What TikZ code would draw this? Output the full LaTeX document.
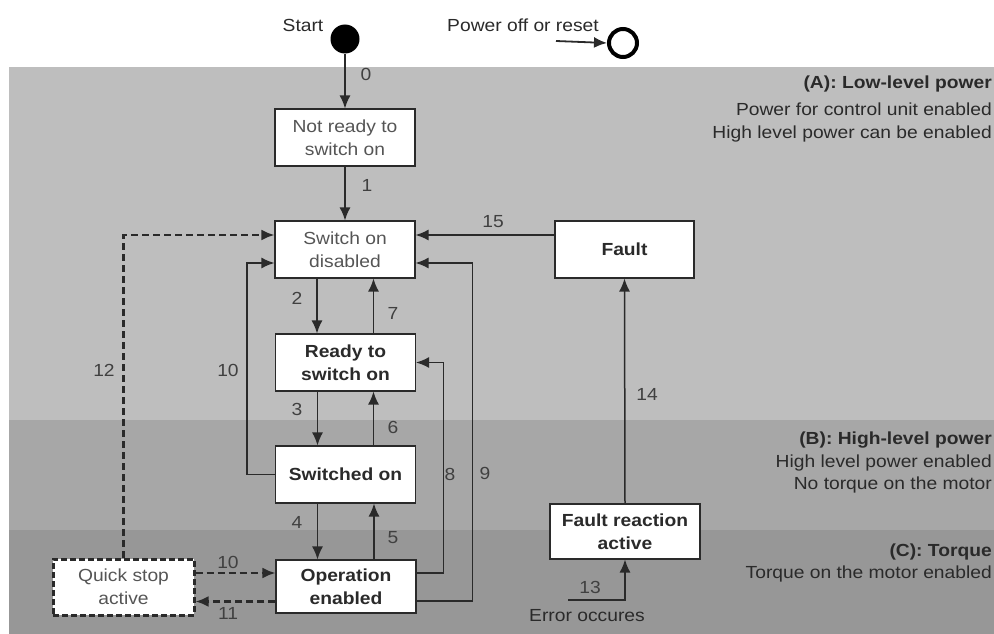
\documentclass[tikz,border=0pt]{standalone}
\usepackage{fontspec}
\setmainfont{Liberation Sans}[FakeStretch=1.1]
\usetikzlibrary{arrows.meta,calc}

\definecolor{bandA}{HTML}{BEBEBE}
\definecolor{bandB}{HTML}{A7A7A7}
\definecolor{bandC}{HTML}{979797}
\definecolor{ink}{HTML}{2A2A2A}
\definecolor{softink}{HTML}{555555}
\definecolor{numink}{HTML}{404040}

\tikzset{
  every node/.style={font=\fontsize{17.5}{23}\selectfont},
  statebox/.style={draw=ink, line width=1.1pt, fill=white, align=center,
    inner sep=0pt, minimum width=140pt, minimum height=57pt},
  boldstate/.style={statebox, font=\fontsize{17.5}{23}\selectfont\bfseries, text=ink},
  plainstate/.style={statebox, text=softink},
  trans/.style={draw=ink, line width=1.5pt, -{Latex[length=13pt,width=11pt]}},
  qtrans/.style={trans, line width=2.5pt, dash pattern=on 7pt off 4pt},
  num/.style={text=numink, inner sep=0pt},
  bandtitle/.style={anchor=east, inner sep=0pt, text=ink,
    font=\fontsize{17.5}{23}\selectfont\bfseries},
  bandtext/.style={anchor=east, inner sep=0pt, text=ink},
}

\begin{document}
\begin{tikzpicture}[x=1pt, y=-1pt]
  \useasboundingbox (0,0) rectangle (994,634);

  % power level bands
  \fill[bandA] (9,67) rectangle (994,420);
  \fill[bandB] (9,420) rectangle (994,530);
  \fill[bandC] (9,530) rectangle (994,634);

  % band descriptions
  \node[bandtitle] (ta)  at (992,84)  {(A): Low-level power};
  \node[bandtext]  (ta1) at (992,109) {Power for control unit enabled};
  \node[bandtext]  (ta2) at (992,134) {High level power can be enabled};
  \node[bandtitle] (tb)  at (992,440) {(B): High-level power};
  \node[bandtext]  (tb1) at (992,463) {High level power enabled};
  \node[bandtext]  (tb2) at (992,485) {No torque on the motor};
  \node[bandtitle] (tc)  at (992,552) {(C): Torque};
  \node[bandtext]  (tc1) at (992,574) {Torque on the motor enabled};

  % initial and final pseudo-states
  \node[circle, fill=black, minimum size=29pt, inner sep=0pt] (start) at (345,39) {};
  \node[text=ink] (startlbl) at (303,25) {Start};
  \node[circle, draw=black, line width=4pt, fill=white, minimum size=28pt, inner sep=0pt] (stop) at (623,43) {};
  \node[text=ink] (stoplbl) at (523,25) {Power off or reset};
  \coordinate (stopin) at (556,41);

  % states
  \node[plainstate] (nr)    at (345,137.5) {Not ready to\\switch on};
  \node[plainstate] (sod)   at (345,249.5) {Switch on\\disabled};
  \node[boldstate, minimum width=139pt] (fault) at (624.5,249.5) {Fault};
  \node[boldstate] (rtso)  at (345.5,362.5) {Ready to\\switch on};
  \node[boldstate] (swon)  at (345.5,474.5) {Switched on};
  \node[boldstate, minimum height=53pt] (open) at (346,586.5) {Operation\\enabled};
  \node[plainstate, minimum width=141pt, minimum height=56pt, line width=3pt,
        dash pattern=on 6pt off 3pt] (qs) at (123.5,587) {Quick stop\\active};
  \node[boldstate, minimum width=150pt, minimum height=55pt] (fra) at (625,531.5) {Fault reaction\\active};

  \node[text=ink] (err) at (587,616) {Error occures};
  \coordinate (errin) at (568,600);

  % main chain
  \draw[trans] (start) -- (nr);
  \draw[trans] (nr) -- (sod);
  \draw[trans] ([xshift=-28pt]sod.south) -- ([xshift=-28pt]sod.south |- rtso.north);
  \draw[trans] ([xshift=28pt]rtso.north) -- ([xshift=28pt]rtso.north |- sod.south);
  \draw[trans] ([xshift=-28pt]rtso.south) -- ([xshift=-28pt]rtso.south |- swon.north);
  \draw[trans] ([xshift=28pt]swon.north) -- ([xshift=28pt]swon.north |- rtso.south);
  \draw[trans] ([xshift=-28pt]swon.south) -- ([xshift=-28pt]swon.south |- open.north);
  \draw[trans] ([xshift=28pt]open.north) -- ([xshift=28pt]open.north |- swon.south);

  % returns to the disabled states
  \draw[trans] (swon.west) -- ++(-28,0) |- ($(sod.west)+(0,13.5)$);
  \draw[trans] ($(open.east)+(0,-13.5)$) -- ++(27,0) |- (rtso.east);
  \draw[trans] ($(open.east)+(0,14.5)$) -- ++(56,0) |- ($(sod.east)+(0,13.5)$);
  \draw[trans] ($(fault.west)+(0,-14.5)$) -- ($(sod.east)+(0,-14.5)$);

  % quick stop
  \coordinate (qa) at ($(qs.east)+(0,-14)$);
  \coordinate (qb) at ($(open.west)+(0,15)$);
  \draw[qtrans] (qa) -- (qa -| open.west);
  \draw[qtrans] (qb) -- (qb -| qs.east);
  \draw[qtrans] (qs.north) |- ($(sod.west)+(0,-14.5)$);

  % fault handling
  \draw[trans] (errin) -| (fra.south);
  \draw[trans] (fra.north) -- (fault.south);
  \draw[trans, line width=1.8pt] (stopin) -- (stop.west);

  % transition numbers
  \node[num] (n0)  at (366,74)  {0};
  \node[num] (n1)  at (367,185) {1};
  \node[num] (n2)  at (297,298) {2};
  \node[num] (n7)  at (393,313) {7};
  \node[num] (n15) at (493,222) {15};
  \node[num] (n10) at (228,370) {10};
  \node[num] (n12) at (104,370) {12};
  \node[num] (n3)  at (297,409) {3};
  \node[num] (n6)  at (393,427) {6};
  \node[num] (n14) at (647,394) {14};
  \node[num] (n8)  at (450,474) {8};
  \node[num] (n9)  at (485,473) {9};
  \node[num] (n4)  at (297,522) {4};
  \node[num] (n5)  at (393,538) {5};
  \node[num] (n10b) at (228,562) {10};
  \node[num] (n11) at (228,613) {11};
  \node[num] (n13) at (590,587) {13};
\end{tikzpicture}
\end{document}
